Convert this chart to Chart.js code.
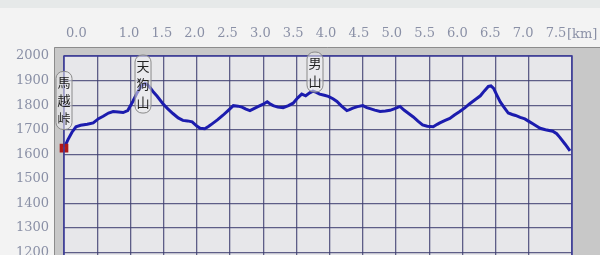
<!DOCTYPE html>
<html>
<head>
<meta charset="utf-8">
<script src="https://cdn.jsdelivr.net/npm/chart.js@4"></script>
<style>
  html, body { margin: 0; padding: 0; background: #f3f3f3; }
  #wrap { width: 600px; height: 255px; overflow: hidden; }
</style>
</head>
<body>
<div id="wrap"><canvas id="profileChart" width="600" height="300"></canvas></div>
<script>
// distance along the trail [km] and elevation [m]
const distKm = [0.00, 0.06, 0.12, 0.18, 0.25, 0.35, 0.44, 0.52, 0.59, 0.67, 0.74, 0.82, 0.89, 0.96,
  1.04, 1.10, 1.17, 1.22, 1.26, 1.30, 1.35, 1.40, 1.49, 1.56, 1.64, 1.72, 1.79, 1.86, 1.93,
  2.00, 2.05, 2.12, 2.18, 2.24, 2.31, 2.39, 2.47, 2.55, 2.62, 2.68, 2.74, 2.80, 2.86, 2.92,
  3.00, 3.06, 3.10, 3.15, 3.22, 3.30, 3.38, 3.45, 3.52, 3.58, 3.64, 3.70, 3.75, 3.80, 3.85, 3.92, 3.98,
  4.05, 4.11, 4.18, 4.26, 4.30, 4.35, 4.42, 4.50, 4.56, 4.61, 4.68, 4.76, 4.84, 4.91, 4.98,
  5.06, 5.12, 5.19, 5.26, 5.33, 5.40, 5.47, 5.56, 5.62, 5.66, 5.74, 5.81, 5.88, 5.96,
  6.04, 6.11, 6.19, 6.27, 6.33, 6.39, 6.43, 6.47, 6.52, 6.57, 6.63, 6.69, 6.75, 6.80, 6.87, 6.94,
  7.00, 7.06, 7.12, 7.17, 7.25, 7.36, 7.42, 7.47, 7.55, 7.62];
const elevM = [1625, 1660, 1690, 1712, 1718, 1722, 1728, 1745, 1755, 1768, 1774, 1772, 1770, 1778,
  1817, 1850, 1880, 1889, 1882, 1870, 1852, 1837, 1806, 1786, 1766, 1748, 1738, 1736, 1732,
  1715, 1706, 1704, 1714, 1726, 1740, 1758, 1778, 1798, 1796, 1792, 1784, 1778, 1786, 1794,
  1804, 1814, 1806, 1798, 1792, 1790, 1798, 1808, 1830, 1845, 1838, 1850, 1857, 1852, 1845, 1840, 1836,
  1826, 1815, 1796, 1778, 1782, 1788, 1794, 1798, 1790, 1786, 1780, 1774, 1776, 1779, 1786,
  1795, 1780, 1766, 1752, 1735, 1720, 1714, 1712, 1722, 1728, 1738, 1746, 1760, 1774,
  1790, 1806, 1822, 1838, 1858, 1876, 1878, 1868, 1840, 1813, 1790, 1768, 1762, 1758, 1750, 1744,
  1734, 1724, 1714, 1706, 1700, 1694, 1684, 1668, 1640, 1614];

const kmLabels = ['0.0', '1.0', '1.5', '2.0', '2.5', '3.0', '3.5', '4.0', '4.5', '5.0', '5.5', '6.0', '6.5', '7.0', '7.5'];
const elevTicks = [1100, 1200, 1300, 1400, 1500, 1600, 1700, 1800, 1900, 2000];

// place names along the route
const placeNames = ['馬越峠', '天狗山', '男山'];
const placeKm = [0.0, 1.19, 3.78];

const labelFont = { family: 'DejaVu Serif', size: 13 };
const labelColor = '#8a90a6';

const framePlugin = {
  id: 'frame',
  beforeDraw(chart) {
    const c = chart.ctx, a = chart.chartArea;
    c.save();
    c.fillStyle = '#f3f3f3';
    c.fillRect(0, 0, chart.width, chart.height);
    c.fillStyle = '#e6e9e9';
    c.fillRect(0, 0, chart.width, 8);
    c.fillStyle = '#c8c8c8';
    c.fillRect(54, 47, chart.width - 54, chart.height - 47);
    c.strokeStyle = '#8c8c8c';
    c.lineWidth = 1;
    c.beginPath();
    c.moveTo(54.5, chart.height); c.lineTo(54.5, 47.5); c.lineTo(chart.width, 47.5);
    c.stroke();
    c.fillStyle = '#e7e7ea';
    c.fillRect(a.left, a.top, a.right - a.left, a.bottom - a.top);
    c.restore();
  },
  afterDraw(chart) {
    const c = chart.ctx, a = chart.chartArea;
    c.save();
    c.strokeStyle = '#3c3c9c';
    c.lineWidth = 1.5;
    c.strokeRect(a.left, a.top, a.right - a.left, a.bottom - a.top);
    c.fillStyle = labelColor;
    c.font = '13px "DejaVu Serif"';
    c.textBaseline = 'middle';
    c.fillText('[km]', 567, 35);

    // vertical place names
    const xs = chart.scales.x, ys = chart.scales.y;
    const tops = [1937, 2004, 2016];
    c.font = '13px "Noto Sans CJK JP"';
    c.textAlign = 'center';
    placeNames.forEach((name, i) => {
      const x = xs.getPixelForValue(placeKm[i]);
      const y = ys.getPixelForValue(tops[i]);
      const h = name.length * 18 + 4;
      c.fillStyle = 'rgba(236,236,238,0.55)';
      c.strokeStyle = '#8a8a8a';
      c.lineWidth = 1;
      c.beginPath();
      c.roundRect(x - 8, y, 16, h, 7);
      c.fill();
      c.stroke();
      c.fillStyle = '#222222';
      for (let k = 0; k < name.length; k++) {
        c.fillText(name[k], x, y + 11 + k * 18);
      }
    });
    c.restore();
  }
};

const ctx = document.getElementById('profileChart');

const profileChart = new Chart(ctx, {
  type: 'line',
  data: {
    datasets: [{
      label: '標高',
      data: distKm.map((d, i) => ({ x: d, y: elevM[i] })),
      borderColor: '#1c1cae',
      borderWidth: 3,
      tension: 0,
      pointStyle: 'rect',
      pointRadius: c => (c.dataIndex === 0 ? 4 : 0),
      pointBackgroundColor: '#d22020',
      pointBorderColor: '#b01818',
      clip: false
    }]
  },
  options: {
    responsive: false,
    animation: false,
    layout: { padding: { left: 0, right: 28, top: 0, bottom: 17 } },
    plugins: { legend: { display: false }, tooltip: { enabled: false } },
    scales: {
      x: {
        type: 'linear',
        position: 'bottom',
        min: 0,
        max: 7.65,
        ticks: { display: false, stepSize: 0.5 },
        grid: { color: 'rgba(60,60,110,0.8)', lineWidth: 1.3, drawTicks: false },
        border: { display: false },
        afterFit: s => { s.height = 0; }
      },
      xl: {
        type: 'linear',
        position: 'top',
        min: 0.011,
        max: 7.744,
        grid: { display: false, drawTicks: false },
        border: { display: false },
        afterBuildTicks: s => {
          // the "0.0" label sits nudged right, off the frame edge
          s.ticks = kmLabels.map(t => ({ value: parseFloat(t) === 0 ? 0.2 : parseFloat(t) }));
        },
        afterFit: s => { s.height = 56; },
        ticks: {
          autoSkip: false,
          maxRotation: 0,
          padding: 15,
          color: labelColor,
          font: labelFont,
          callback: (v, i) => kmLabels[i]
        }
      },
      y: {
        min: 1100,
        max: 2000,
        afterBuildTicks: s => { s.ticks = elevTicks.map(v => ({ value: v })); },
        afterFit: s => { s.width = 64; },
        ticks: { padding: 15, color: labelColor, font: labelFont, callback: v => String(v) },
        grid: { color: 'rgba(60,60,110,0.8)', lineWidth: 1.3, drawTicks: false },
        border: { display: false }
      }
    }
  },
  plugins: [framePlugin]
});
</script>
</body>
</html>
